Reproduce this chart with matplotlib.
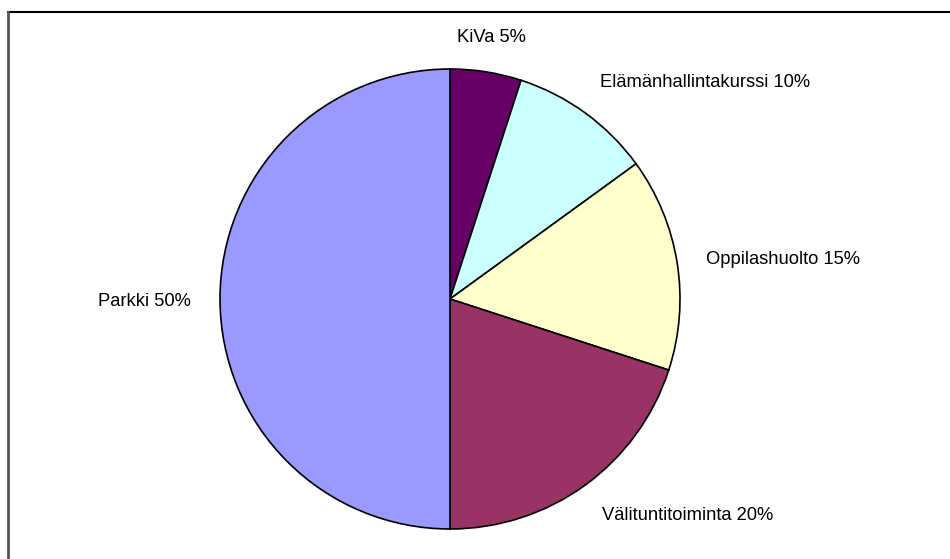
#piirretaan piirakkakaavio
import matplotlib
matplotlib.use('Agg')
import matplotlib.pyplot as plt
from matplotlib.lines import Line2D

#data
nimet = ['KiVa', 'Elämänhallintakurssi', 'Oppilashuolto', 'Välituntitoiminta', 'Parkki']
osuudet = [5, 10, 15, 20, 50]
varit = ['#660066', '#CCFFFF', '#FFFFCC', '#993366', '#9999FF']

#tekstien paikat (piirakan sade = 1)
teksti_x = [0.178, 0.652, 1.113, 0.661, -1.126]
teksti_y = [1.139, 0.943, 0.170, -0.943, -0.013]
teksti_ha = ['center', 'left', 'left', 'left', 'right']

plt.rcParams['font.family'] = ['Liberation Sans', 'DejaVu Sans']

fig = plt.figure(figsize=(9.5, 5.59), dpi=100)
ax = fig.add_axes([0, 0, 1, 1])

ax.pie(osuudet, colors=varit, startangle=90, counterclock=False,
       wedgeprops={'edgecolor': 'black', 'linewidth': 1.2})

for i in range(len(nimet)):
    ax.text(teksti_x[i], teksti_y[i], nimet[i] + ' ' + str(osuudet[i]) + '%',
            ha=teksti_ha[i], va='center', fontsize=13.2, color='black')

R = 230.0
ax.set_xlim(-450 / R, 500 / R)
ax.set_ylim(-260 / R, 299 / R)
ax.set_aspect('equal', adjustable='box')
ax.axis('off')

#kehys ylos ja vasemmalle
fig.add_artist(Line2D([7.5 / 950, 1], [1 - 12 / 559, 1 - 12 / 559],
                      transform=fig.transFigure, color='black', linewidth=1.5))
fig.add_artist(Line2D([7.5 / 950, 7.5 / 950], [0, 1 - 12 / 559],
                      transform=fig.transFigure, color='#555555', linewidth=2))

fig.savefig('out.png', dpi=100)
